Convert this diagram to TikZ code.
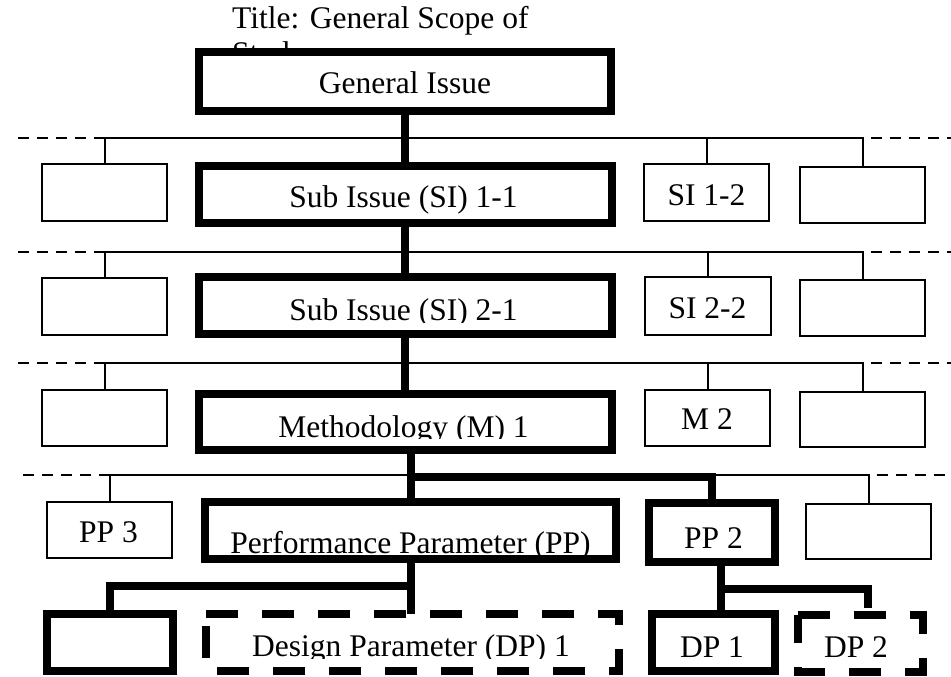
\documentclass[tikz,border=0pt]{standalone}
\usepackage{fontspec}
\setmainfont{Liberation Serif}
\usetikzlibrary{calc}
\newcommand\bigtxt{\fontsize{31.5}{36}\selectfont}
\tikzset{
  thinbox/.style={draw, line width=2pt, inner sep=0pt, outer sep=0pt, fill=white},
  thickbox/.style={draw, line width=8pt, inner sep=0pt, outer sep=0pt, fill=white},
  ghost/.style={inner sep=0pt, outer sep=0pt},
  thinline/.style={line width=2pt},
  thickline/.style={line width=8pt},
  dashline/.style={line width=2pt, dash pattern=on 11pt off 8pt},
  dashbox/.style={line width=8pt, dash pattern=on 32pt off 24pt},
  lbl/.style={font=\bigtxt, inner sep=0pt, anchor=base},
}
\begin{document}
\begin{tikzpicture}[x=1pt, y=-1pt]
\useasboundingbox (0,0) rectangle (951,677);

% title (second line partly hidden by the box)
\node[lbl, anchor=base west] (title1) at (232,29) {Title: General Scope of};
\node[lbl, anchor=base west] (title2) at (232,64) {Study};

% boxes
\node[thickbox, minimum width=412pt, minimum height=59pt] (gi) at (405,81.5) {};

\node[thinbox, minimum width=125pt, minimum height=57pt] (l1) at (104.5,192.5) {};
\node[thickbox, minimum width=413pt, minimum height=57pt] (si11) at (405.5,194.5) {};
\node[thinbox, minimum width=125pt, minimum height=57pt] (si12) at (706.5,192.5) {};
\node[thinbox, minimum width=125pt, minimum height=56pt] (r1) at (862.5,195) {};

\node[thinbox, minimum width=125pt, minimum height=57pt] (l2) at (104.5,306.5) {};
\node[thickbox, minimum width=413pt, minimum height=57pt] (si21) at (405.5,305.5) {};
\node[thinbox, minimum width=126pt, minimum height=58pt] (si22) at (708,306) {};
\node[thinbox, minimum width=125pt, minimum height=56pt] (r2) at (862.5,308) {};

\node[thinbox, minimum width=125pt, minimum height=56pt] (l3) at (104.5,418) {};
\node[thickbox, minimum width=413pt, minimum height=56pt] (m1) at (405.5,422) {};
\node[thinbox, minimum width=125pt, minimum height=56pt] (m2) at (707.5,418) {};
\node[thinbox, minimum width=125pt, minimum height=55pt] (r3) at (862.5,419.5) {};

\node[thinbox, minimum width=125pt, minimum height=56pt] (pp3) at (109.5,530) {};
\node[thickbox, minimum width=411pt, minimum height=57pt] (pp) at (410.5,530.5) {};
\node[thickbox, minimum width=126pt, minimum height=59pt] (pp2) at (712,532.5) {};
\node[thinbox, minimum width=125pt, minimum height=55pt] (r4) at (868.5,531.5) {};

\node[thickbox, minimum width=126pt, minimum height=57pt] (bl) at (110,642.5) {};
\node[ghost, minimum width=412.5pt, minimum height=57.5pt] (dpa) at (412.25,642.25) {};
\node[thickbox, minimum width=123pt, minimum height=57pt] (dp1) at (713.5,642.5) {};
\node[ghost, minimum width=125pt, minimum height=57pt] (dpb) at (860,643.5) {};

\draw[dashbox] (dpa.north west) -- (dpa.north east) -- (dpa.south east) -- (dpa.south west) -- cycle;
\draw[dashbox] (dpb.north west) -- (dpb.north east) -- (dpb.south east) -- (dpb.south west) -- cycle;

% bus coordinates and free ends
\coordinate (bus1) at (0,138);
\coordinate (bus2) at (0,252);
\coordinate (bus3) at (0,363);
\coordinate (bus4) at (0,475);
\coordinate (e1l) at (12,138);  \coordinate (e1r) at (951,138);
\coordinate (e2l) at (12,252);  \coordinate (e2r) at (951,252);
\coordinate (e3l) at (12,363);  \coordinate (e3r) at (951,363);
\coordinate (e4l) at (17,475);  \coordinate (e4r) at (951,475);

% row 1
\draw[thinline] (l1.north) |- (bus1 -| r1.north) -- (r1.north);
\draw[thinline] (si12.north) -- (si12.north |- bus1);
\draw[dashline] (l1.north |- bus1) -- (e1l);
\draw[dashline] ($(r1.north |- bus1)+(8,0)$) -- (e1r);
% row 2
\draw[thinline] (l2.north) |- (bus2 -| r2.north) -- (r2.north);
\draw[thinline] (si22.north) -- (si22.north |- bus2);
\draw[dashline] (l2.north |- bus2) -- (e2l);
\draw[dashline] ($(r2.north |- bus2)+(8,0)$) -- (e2r);
% row 3
\draw[thinline] (l3.north) |- (bus3 -| r3.north) -- (r3.north);
\draw[thinline] (m2.north) -- (m2.north |- bus3);
\draw[dashline] (l3.north |- bus3) -- (e3l);
\draw[dashline] ($(r3.north |- bus3)+(8,0)$) -- (e3r);
% row 4
\draw[thinline] (pp3.north) |- (bus4 -| r4.north) -- (r4.north);
\draw[dashline] (pp3.north |- bus4) -- (e4l);
\draw[dashline] ($(r4.north |- bus4)+(8,0)$) -- (e4r);

% main trunk
\draw[thickline] (gi.south) -- (gi.south |- si11.north);
\draw[thickline] (gi.south |- si11.south) -- (gi.south |- si21.north);
\draw[thickline] (gi.south |- si21.south) -- (gi.south |- m1.north);
\draw[thickline] (m1.south -| pp.north) -- (pp.north);
\draw[thickline] ($(pp.north |- bus4)+(0,2)$) -| (pp2.north);

% bottom branches
\coordinate (j1) at (0,586);
\coordinate (j2) at (721,589);
\coordinate (j3) at (868,608);
\draw[thickline] (pp.south) -- (pp.south |- dpa.north);
\draw[thickline] (pp.south |- j1) -| (bl.north);
\draw[thickline] (pp2.south -| j2) -- (j2 |- dp1.north);
\draw[thickline] (j2) -| (j3);

% labels
\node[lbl] (tgi) at (405,94) {General Issue};
\node[lbl] (tsi11) at (403.5,207) {Sub Issue (SI) 1-1};
\begin{scope}
  \clip (199,270) rectangle (612,322);
  \node[lbl] (tsi21) at (403.5,320) {Sub Issue (SI) 2-1};
\end{scope}
\begin{scope}
  \clip (199,390) rectangle (612,438.5);
  \node[lbl] (tm1) at (403.5,437) {Methodology (M) 1};
\end{scope}
\begin{scope}
  \clip (205,500) rectangle (616,555);
  \node[lbl] (tpp) at (410.5,553) {Performance Parameter (PP)};
\end{scope}
\begin{scope}
  \clip (206,615) rectangle (618,658.5);
  \node[lbl] (tdpa) at (411,656.5) {Design Parameter (DP) 1};
\end{scope}
\node[lbl] (tsi12) at (706.5,205) {SI 1-2};
\node[lbl] (tsi22) at (707.5,318) {SI 2-2};
\node[lbl] (tm2) at (707,429) {M 2};
\node[lbl] (tpp3) at (108.5,542) {PP 3};
\node[lbl] (tpp2) at (713.5,548) {PP 2};
\node[lbl] (tdp1) at (712,657) {DP 1};
\node[lbl] (tdp2) at (856,657) {DP 2};
\end{tikzpicture}
\end{document}
